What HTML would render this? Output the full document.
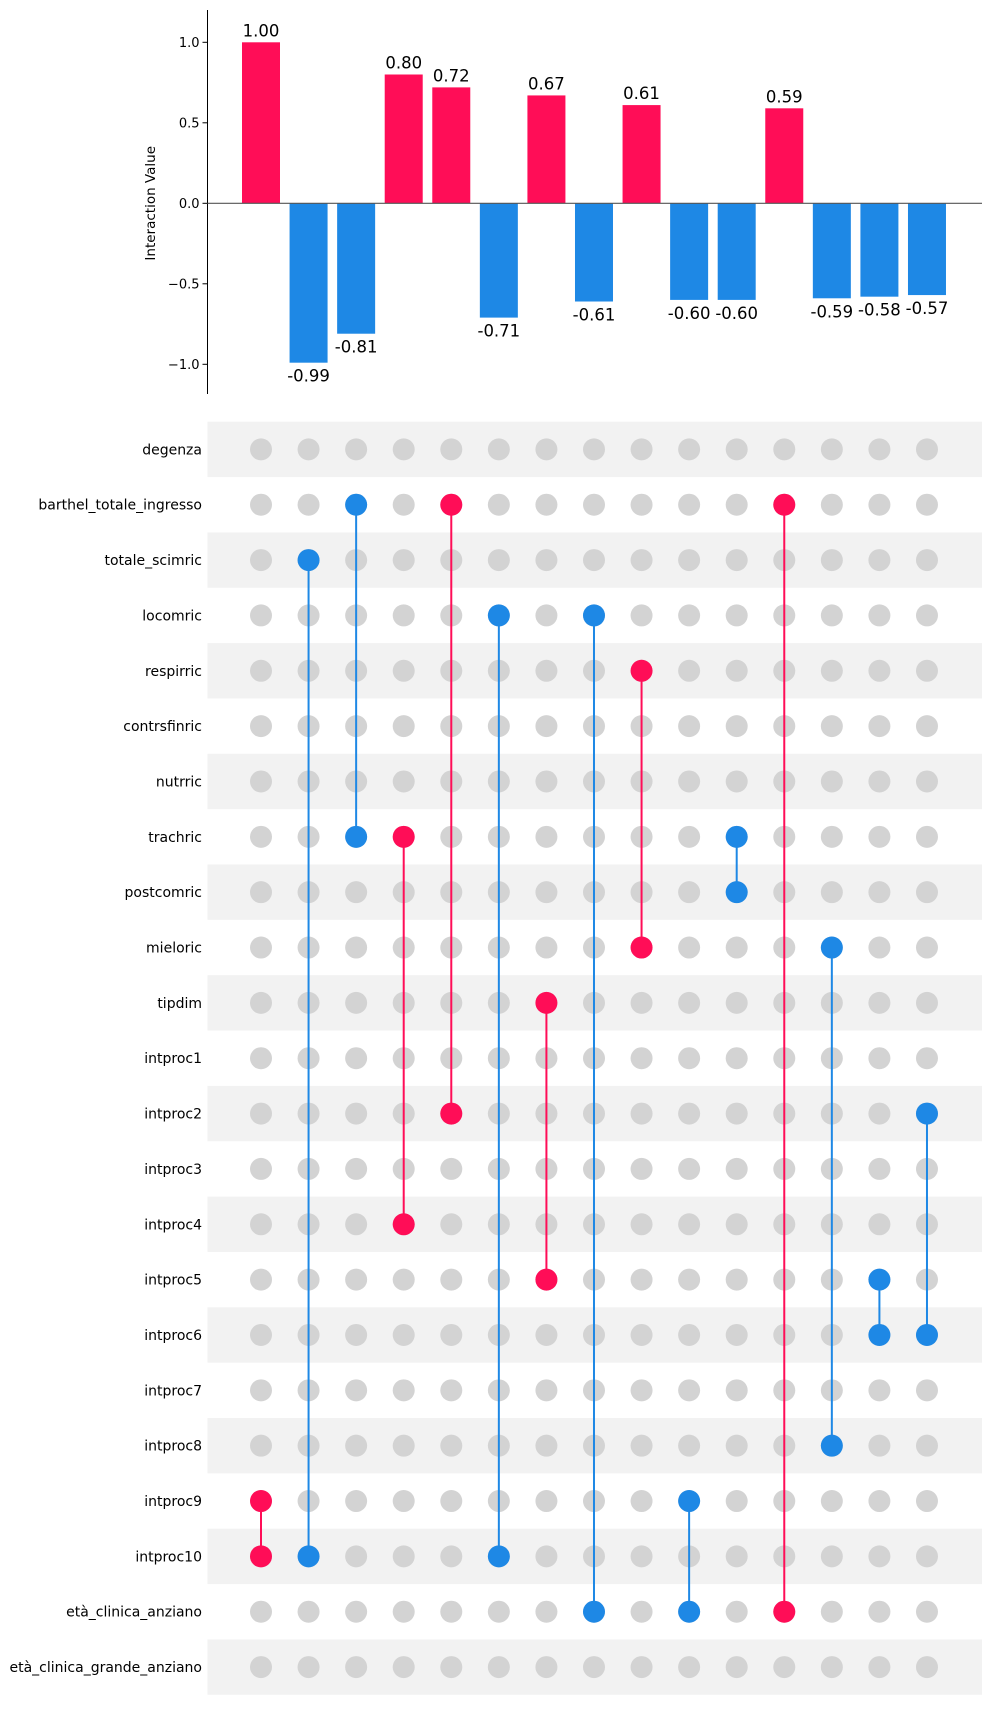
<!DOCTYPE html>
<html><head><meta charset="utf-8"><style>
html,body{margin:0;padding:0;background:#fff;}
svg{display:block;font-family:"DejaVu Sans","Liberation Sans",sans-serif;}
</style></head><body>
<svg id="chart" width="991" height="1733" viewBox="0 0 991 1733" xmlns="http://www.w3.org/2000/svg"></svg>
<script>
const values = [1.00,-0.99,-0.81,0.80,0.72,-0.71,0.67,-0.61,0.61,-0.60,-0.60,0.59,-0.59,-0.58,-0.57];
const features = ["degenza","barthel_totale_ingresso","totale_scimric","locomric","respirric","contrsfinric","nutrric","trachric","postcomric","mieloric","tipdim","intproc1","intproc2","intproc3","intproc4","intproc5","intproc6","intproc7","intproc8","intproc9","intproc10","età_clinica_anziano","età_clinica_grande_anziano"];
const pairA = [19,2,1,7,1,3,10,3,4,19,7,1,9,15,12];
const pairB = [20,20,7,14,12,20,15,21,9,21,8,21,18,16,16];
const yTicks = [1.0,0.5,0.0,-0.5,-1.0];
const yTickLabels = ["1.0","0.5","0.0","\u22120.5","\u22121.0"];

const NS="http://www.w3.org/2000/svg";
const svg=document.getElementById('chart');
const RED="#ff0d57", BLUE="#1e88e5";
function mk(tag,attrs,parent){const e=document.createElementNS(NS,tag);for(const k in attrs)e.setAttribute(k,attrs[k]);(parent||svg).appendChild(e);return e;}
const axL=207.5, axR=982, x0=261, dx=47.57, bw=38;
const y0=203.3, yScale=161;
function xc(i){return x0+i*dx;}
function yv(v){return y0-v*yScale;}
const rowTop=421.7, rowH=55.35;
function yr(r){return rowTop+rowH*(r+0.5);}

let a=mk('line',{x1:axL,y1:10,x2:axL,y2:394,stroke:'#000','stroke-width':1});

yTicks.forEach((t,i)=>{
  let tk=mk('line',{x1:axL-5,y1:yv(t),x2:axL,y2:yv(t),stroke:'#000','stroke-width':1});
  
  let tx=mk('text',{x:axL-8,y:yv(t)+4.5,'text-anchor':'end','font-size':13,fill:'#000'});
  tx.textContent=yTickLabels[i];
  
});
let yl=mk('text',{x:0,y:0,transform:'translate(155,'+(y0+0)+') rotate(-90)','text-anchor':'middle','font-size':13.5,fill:'#000'});
yl.textContent="Interaction Value";


values.forEach((v,i)=>{
  const top=Math.min(yv(v),y0),h=Math.abs(yv(v)-y0);
  let b=mk('rect',{x:xc(i)-bw/2,y:top,width:bw,height:h,fill:v>=0?RED:BLUE});
  
  let t=mk('text',{x:xc(i),y:v>=0?yv(v)-6:yv(v)+19,'text-anchor':'middle','font-size':16.5,fill:'#000'});
  t.textContent=v.toFixed(2);
  
});
let z=mk('line',{x1:axL,y1:y0,x2:axR,y2:y0,stroke:'#555','stroke-width':1.2});


features.forEach((f,r)=>{
  if(r%2===0){let s=mk('rect',{x:axL,y:rowTop+r*rowH,width:axR-axL,height:rowH,fill:'#f2f2f2'});
    }
  let t=mk('text',{x:202,y:yr(r)+5,'text-anchor':'end','font-size':14,fill:'#000'});
  t.textContent=f;
  
  values.forEach((v,i)=>{
    let c=mk('circle',{cx:xc(i),cy:yr(r),r:11,fill:'#d3d3d3'});
    
  });
});
values.forEach((v,i)=>{
  const col=v>=0?RED:BLUE;
  let l=mk('line',{x1:xc(i),y1:yr(pairA[i]),x2:xc(i),y2:yr(pairB[i]),stroke:col,'stroke-width':2});
  
  [pairA[i],pairB[i]].forEach(r=>{
    let c=mk('circle',{cx:xc(i),cy:yr(r),r:11,fill:col});
    
  });
});
</script>
</body></html>
